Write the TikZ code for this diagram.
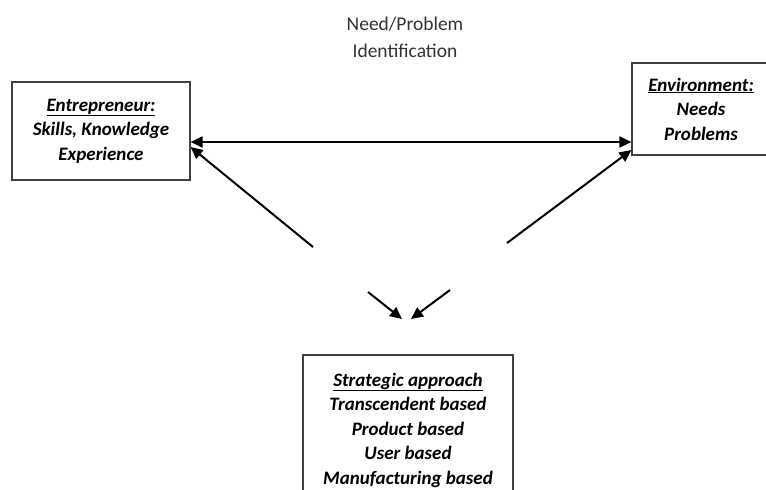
\documentclass[tikz,border=0pt]{standalone}
\usepackage{fontspec}
\setmainfont{Carlito}
\usetikzlibrary{arrows.meta}

\begin{document}
\begin{tikzpicture}[x=1pt,y=-1pt,
    box/.style = {draw=black!75,line width=1.2pt,align=center,inner sep=0pt,font=\bfseries\itshape\fontsize{19}{24.5}\selectfont},
    arr/.style = {line width=2pt,-{Triangle[length=12pt,width=11pt]}}]
            \useasboundingbox (0,0) rectangle (766,490);
            \node (title) at (405,37) [align=center,text=black!80,font=\fontsize{19.5}{27}\selectfont] {Need/Problem\\Identification};

            \node[box,minimum width=178pt,minimum height=98pt] (ent) at (101,131) {\underline{Entrepreneur:}\\Skills, Knowledge\\Experience};
            \node[box,minimum width=138pt,minimum height=92pt] (env) at (701,109) {\underline{Environment:}\\Needs\\Problems};
            \node[box,minimum width=210pt,minimum height=150pt] (str) at (408,430) {\underline{Strategic approach}\\Transcendent based\\Product based\\User based\\Manufacturing based};

            \coordinate (L1) at (313,247);
            \coordinate (R1) at (507,243);
            \coordinate (L2) at (368,292);
            \coordinate (L3) at (402,319);
            \coordinate (R2) at (450,290);
            \coordinate (R3) at (411,319);

            \draw[arr,{Triangle[length=12pt,width=11pt]}-{Triangle[length=12pt,width=11pt]}] ([yshift=-11pt]ent.east)--([yshift=-33pt]env.west);
            \draw[arr] (L1)--([yshift=-16pt]ent.east);
            \draw[arr] (R1)--([yshift=-41pt]env.west);
            \draw[arr] (L2)--(L3);
            \draw[arr] (R2)--(R3);
        \end{tikzpicture}
\end{document}
